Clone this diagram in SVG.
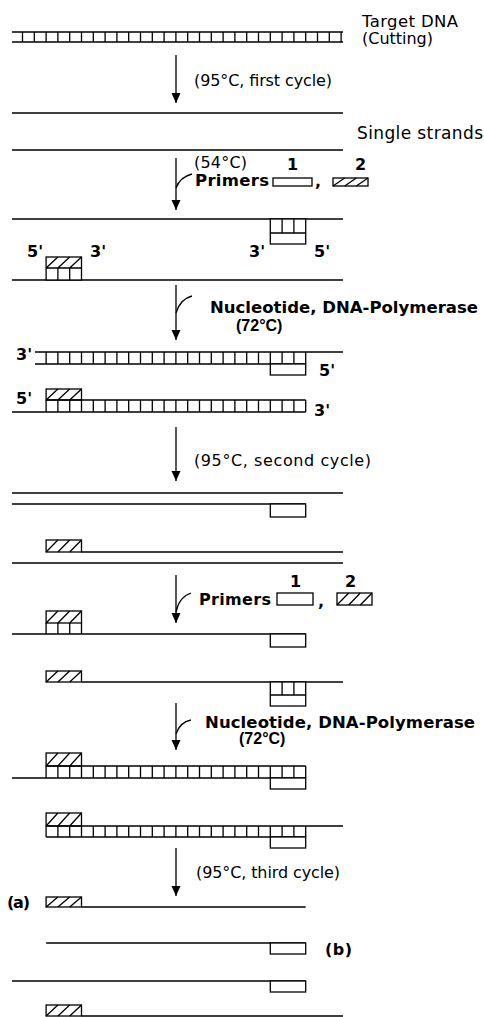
<svg xmlns="http://www.w3.org/2000/svg" width="484" height="1017" viewBox="0 0 484 1017">
<style>
.s{stroke:#000;stroke-width:1.3;fill:none}
.bx{stroke:#000;stroke-width:1.3;fill:#fff}
.t{font-family:"DejaVu Sans","Liberation Sans",Arial,sans-serif;font-size:16px;fill:#000}
.b{font-weight:bold}
.lb{font-family:"Liberation Sans",Arial,sans-serif;font-size:16px}
</style>
<defs>
<marker id="ah" markerUnits="userSpaceOnUse" markerWidth="10" markerHeight="10" refX="10" refY="4.5" orient="auto"><path d="M0,0L10,4.5L0,9z" fill="#000"/></marker>
</defs>
<rect width="484" height="1017" fill="#fff"/>

<g id="target-dna">
<path class="s" d="M12,32H343M12,42H343"/>
<path class="s" d="M22.5,32v10m11.8,-10v10m11.8,-10v10m11.8,-10v10m11.8,-10v10m11.8,-10v10m11.8,-10v10m11.8,-10v10m11.8,-10v10m11.8,-10v10m11.8,-10v10m11.8,-10v10m11.8,-10v10m11.8,-10v10m11.8,-10v10m11.8,-10v10m11.8,-10v10m11.8,-10v10m11.8,-10v10m11.8,-10v10m11.8,-10v10m11.8,-10v10m11.8,-10v10m11.8,-10v10m11.8,-10v10m11.8,-10v10m11.8,-10v10m11.8,-10v10"/>
<text class="t" x="362" y="27" style="font-size:16.5px" textLength="96">Target DNA</text>
<text class="t" x="362" y="44" textLength="71">(Cutting)</text>
</g>

<g id="single-strands">
<path class="s" d="M12,113H343M12,150H343"/>
<text class="t" x="357" y="139" style="font-size:17px" textLength="126">Single strands</text>
</g>

<g id="primer-legend-1">
<text class="t" x="194" y="168" textLength="53">(54°C)</text>
<text class="t b" x="287" y="170">1</text>
<text class="t b" x="355" y="170">2</text>
<text class="t b" x="195" y="186" style="font-size:16.5px" textLength="74">Primers</text>
<text class="t b" x="315" y="187">,</text>
<rect class="bx" x="273" y="178" width="39" height="8"/>
<rect class="bx" x="333" y="178" width="35" height="8"/>
<path class="s" d="M333,186L344.7,178M344.7,186L356.3,178M356.3,186L368,178"/>
</g>

<g id="annealed-1">
<path class="s" d="M12,219H343M12,280H343"/>
<rect class="bx" x="270.3" y="219" width="35.4" height="25"/>
<path class="s" d="M270.3,233H305.7M282.1,219v14m11.8,-14v14"/>
<rect class="bx" x="46.1" y="257" width="35.4" height="23"/>
<path class="s" d="M46.1,268H81.5M57.9,268v12m11.8,-12v12M46.1,268L57.9,257M57.9,268L69.7,257M69.7,268L81.5,257"/>
<text class="t b" x="27" y="257">5'</text>
<text class="t b" x="90" y="257">3'</text>
<text class="t b" x="249" y="257">3'</text>
<text class="t b" x="314" y="257">5'</text>
</g>

<g id="extension-1">
<text class="t b" x="210" y="313" style="font-size:16.5px" textLength="268">Nucleotide, DNA-Polymerase</text>
<text class="t b lb" x="236" y="331">(72°C)</text>
</g>

<g id="duplex-1">
<path class="s" d="M35,352H343M35,364H305.7"/>
<path class="s" d="M46.1,352v12m11.8,-12v12m11.8,-12v12m11.8,-12v12m11.8,-12v12m11.8,-12v12m11.8,-12v12m11.8,-12v12m11.8,-12v12m11.8,-12v12m11.8,-12v12m11.8,-12v12m11.8,-12v12m11.8,-12v12m11.8,-12v12m11.8,-12v12m11.8,-12v12m11.8,-12v12m11.8,-12v12m11.8,-12v12m11.8,-12v12m11.8,-12v12m11.8,-12v12"/>
<rect class="bx" x="270.3" y="364" width="35.4" height="11"/>
<text class="t b" x="16" y="360">3'</text>
<text class="t b" x="319" y="376">5'</text>
</g>

<g id="duplex-2">
<rect class="bx" x="46.1" y="389" width="35.4" height="11"/>
<path class="s" d="M46.1,400L57.9,389M57.9,400L69.7,389M69.7,400L81.5,389"/>
<path class="s" d="M46.1,400H305.7M12,412H305.7"/>
<path class="s" d="M46.1,400v12m11.8,-12v12m11.8,-12v12m11.8,-12v12m11.8,-12v12m11.8,-12v12m11.8,-12v12m11.8,-12v12m11.8,-12v12m11.8,-12v12m11.8,-12v12m11.8,-12v12m11.8,-12v12m11.8,-12v12m11.8,-12v12m11.8,-12v12m11.8,-12v12m11.8,-12v12m11.8,-12v12m11.8,-12v12m11.8,-12v12m11.8,-12v12m11.8,-12v12"/>
<text class="t b" x="16" y="404">5'</text>
<text class="t b" x="314" y="416">3'</text>
</g>

<g id="denatured-2">
<path class="s" d="M12,493H343M12,504H305.7M81.5,552H343M12,563H343"/>
<rect class="bx" x="270.3" y="504" width="35.4" height="13"/>
<rect class="bx" x="46.1" y="540" width="35.4" height="12"/>
<path class="s" d="M46.1,552L57.9,540M57.9,552L69.7,540M69.7,552L81.5,540"/>
</g>

<g id="primer-legend-2">
<text class="t b" x="290" y="587">1</text>
<text class="t b" x="345" y="587">2</text>
<text class="t b" x="199" y="605" textLength="72">Primers</text>
<text class="t b" x="318" y="607">,</text>
<rect class="bx" x="277" y="593" width="36" height="12"/>
<rect class="bx" x="337" y="593" width="35" height="12"/>
<path class="s" d="M337,605L348.7,593M348.7,605L360.3,593M360.3,605L372,593"/>
</g>

<g id="annealed-2">
<rect class="bx" x="46.1" y="611" width="35.4" height="12"/>
<path class="s" d="M46.1,623L57.9,611M57.9,623L69.7,611M69.7,623L81.5,611"/>
<path class="s" d="M46.1,623v11m11.8,-11v11m11.8,-11v11m11.8,-11v11M12,634H305.7"/>
<rect class="bx" x="270.3" y="634" width="35.4" height="13"/>
<rect class="bx" x="46.1" y="671" width="35.4" height="11"/>
<path class="s" d="M46.1,682L57.9,671M57.9,682L69.7,671M69.7,682L81.5,671"/>
<path class="s" d="M81.5,682H343"/>
<rect class="bx" x="270.3" y="682" width="35.4" height="24"/>
<path class="s" d="M270.3,695H305.7M282.1,682v13m11.8,-13v13"/>
</g>

<g id="extension-2">
<text class="t b" x="205" y="728" style="font-size:16.5px" textLength="270">Nucleotide, DNA-Polymerase</text>
<text class="t b lb" x="239" y="744">(72°C)</text>
</g>

<g id="duplex-3">
<rect class="bx" x="46.1" y="753" width="35.4" height="13"/>
<path class="s" d="M46.1,766L57.9,753M57.9,766L69.7,753M69.7,766L81.5,753"/>
<path class="s" d="M46.1,766H305.7M12,778H305.7"/>
<path class="s" d="M46.1,766v12m11.8,-12v12m11.8,-12v12m11.8,-12v12m11.8,-12v12m11.8,-12v12m11.8,-12v12m11.8,-12v12m11.8,-12v12m11.8,-12v12m11.8,-12v12m11.8,-12v12m11.8,-12v12m11.8,-12v12m11.8,-12v12m11.8,-12v12m11.8,-12v12m11.8,-12v12m11.8,-12v12m11.8,-12v12m11.8,-12v12m11.8,-12v12m11.8,-12v12"/>
<rect class="bx" x="270.3" y="778" width="35.4" height="11"/>
</g>

<g id="duplex-4">
<rect class="bx" x="46.1" y="813" width="35.4" height="13"/>
<path class="s" d="M46.1,826L57.9,813M57.9,826L69.7,813M69.7,826L81.5,813"/>
<path class="s" d="M46.1,826H343M46.1,837H305.7"/>
<path class="s" d="M46.1,826v11m11.8,-11v11m11.8,-11v11m11.8,-11v11m11.8,-11v11m11.8,-11v11m11.8,-11v11m11.8,-11v11m11.8,-11v11m11.8,-11v11m11.8,-11v11m11.8,-11v11m11.8,-11v11m11.8,-11v11m11.8,-11v11m11.8,-11v11m11.8,-11v11m11.8,-11v11m11.8,-11v11m11.8,-11v11m11.8,-11v11m11.8,-11v11m11.8,-11v11"/>
<rect class="bx" x="270.3" y="837" width="35.4" height="11"/>
</g>

<g id="product-a">
<rect class="bx" x="46.1" y="897" width="35.4" height="10"/>
<path class="s" d="M46.1,907L57.9,897M57.9,907L69.7,897M69.7,907L81.5,897M81.5,907H305.7"/>
<text class="t b" x="7" y="908" textLength="23">(a)</text>
</g>

<g id="product-b">
<path class="s" d="M46.1,943H305.7"/>
<rect class="bx" x="270.3" y="943" width="35.4" height="11"/>
<text class="t b" x="325" y="955" textLength="27">(b)</text>
</g>

<g id="strand-long-1">
<path class="s" d="M12,981H305.7"/>
<rect class="bx" x="270.3" y="981" width="35.4" height="11"/>
</g>

<g id="strand-long-2">
<rect class="bx" x="46.1" y="1005" width="35.4" height="11"/>
<path class="s" d="M46.1,1016L57.9,1005M57.9,1016L69.7,1005M69.7,1016L81.5,1005M81.5,1016H343"/>
</g>

<g id="labels-steps">
<text class="t" x="194" y="86" textLength="138">(95°C, first cycle)</text>
<text class="t" x="194" y="466" textLength="177">(95°C, second cycle)</text>
<text class="t" x="196" y="878" textLength="144">(95°C, third cycle)</text>
</g>

<g id="connectors">
<path class="s" d="M176,55V103" marker-end="url(#ah)"/>
<path class="s" d="M176,158V210" marker-end="url(#ah)"/>
<path class="s" d="M176,188Q180,177 192,174"/>
<path class="s" d="M176,285V340" marker-end="url(#ah)"/>
<path class="s" d="M176,313Q180,299 192,296"/>
<path class="s" d="M176,427V481" marker-end="url(#ah)"/>
<path class="s" d="M176,575V623" marker-end="url(#ah)"/>
<path class="s" d="M176,612Q179,597 191,593"/>
<path class="s" d="M176,703V750" marker-end="url(#ah)"/>
<path class="s" d="M176,734Q180,722 191,720"/>
<path class="s" d="M176,848V896" marker-end="url(#ah)"/>
</g>
</svg>
